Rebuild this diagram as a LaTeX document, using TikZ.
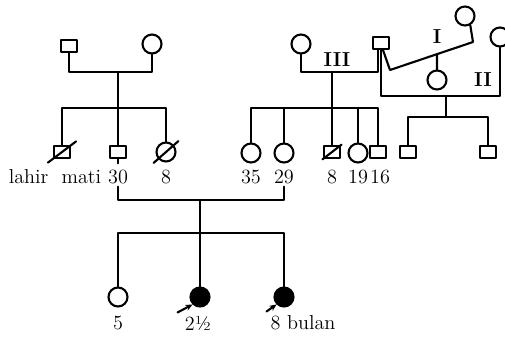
\documentclass[tikz,border=0pt]{standalone}
\usetikzlibrary{arrows.meta,calc}
\tikzset{
  ped/.style={
    line width=1.2pt,
    line cap=round,
    line join=round
  },
  male/.style={
    rectangle,
    draw=black,
    line width=1.2pt,
    minimum width=0.32cm,
    minimum height=0.24cm,
    inner sep=0pt
  },
  female/.style={
    circle,
    draw=black,
    line width=1.2pt,
    minimum size=0.38cm,
    inner sep=0pt
  },
  affected/.style={fill=black},
  age/.style={font=\fontsize{11.5}{13}\selectfont, inner sep=1pt},
  roman/.style={font=\fontsize{11.5}{13}\selectfont\bfseries, inner sep=0pt},
  proband/.style={-{Stealth[length=4pt,width=3.5pt]}, line width=1.2pt}
}
\newcommand{\deceased}[2][0.1cm]{%
  \draw ($(#2.south west)+(-#1,-0.7*#1)$) -- ($(#2.north east)+(#1,0.7*#1)$);
}

\begin{document}
\begin{tikzpicture}[ped, x=0.02cm, y=-0.02cm]
  \useasboundingbox (0,0) rectangle (505,336);
  % left grandparents
  \node[male] (gpa) at (69,46) {};
  \node[female] (gma) at (152,44) {};
  \coordinate (m1) at (118,72);
  \coordinate (s1) at (118,108);
  \draw (gpa.south) |- (m1) -| (gma.south);
  \draw (m1) -- (s1);
  \node[male] (c1) at (62,152) {};
  \node[male] (c2) at (118,152) {};
  \node[female] (c3) at (166,152) {};
  \draw (c1.north) |- (s1) -| (c3.north);
  \draw (s1) -- (c2.north);
  \deceased{c1}
  \deceased{c3}

  % right grandparents, three marriages
  \node[female] (w3) at (301,44) {};
  \node[male] (h) at (381,43) {};
  \node[female] (w1) at (465,16) {};
  \node[female] (w2) at (500,37) {};
  \node[roman] (r3) at (337,60) {III};
  \node[roman] (r1) at (437,37) {I};
  \node[roman] (r2) at (483,80) {II};

  % III
  \coordinate (m3) at (332,72);
  \coordinate (s3) at (332,108);
  \draw (w3.south) |- (m3) -| ([xshift=-0.06cm]h.south);
  \draw (m3) -- (s3);
  \node[female] (e1) at (251,153) {};
  \node[female] (e2) at (284,153) {};
  \node[male] (e3) at (332,152) {};
  \node[female] (e4) at (358,153) {};
  \node[male] (e5) at (378,152) {};
  \draw (e1.north) |- (s3) -| (e5.north);
  \draw (s3) -- (e3.north);
  \draw (e2.north) -- (e2.north |- s3);
  \draw (e4.north) -- (e4.north |- s3);
  \deceased[0.01cm]{e3}

  % I
  \coordinate (k1) at (390,70);
  \coordinate (k2) at (473,42);
  \draw ([xshift=0.04cm]h.south) -- (k1) -- (k2) -- (w1.-60);
  \coordinate (m4) at ($(k1)!0.566!(k2)$);
  \node[female] (f1) at (437,80) {};
  \draw (m4) -- (f1.north);

  % II
  \coordinate (m5) at (446,96);
  \coordinate (s5) at (446,117);
  \draw (h.south) |- (m5) -| (w2.south);
  \draw (m5) -- (s5);
  \node[male] (d1) at (408,152) {};
  \node[male] (d2) at (488,152) {};
  \draw (d1.north) |- (s5) -| (d2.north);

  % ages
  \node[age] (tlm) at (55,177) {lahir\ \ mati};
  \node[age] (t30) at (118,177) {30};
  \node[age] (t8a) at (166,177) {8};
  \node[age] (t35) at (251,177) {35};
  \node[age] (t29) at (284,177) {29};
  \node[age] (t8b) at (332,177) {8};
  \node[age] (t19) at (358,177) {19};
  \node[age] (t16) at (380,177) {16};
  \draw (c2.south) -- ([yshift=0.08cm]t30.north);

  % parents and children
  \coordinate (m6) at (200,200);
  \coordinate (s6) at (200,233);
  \draw (t30.south) |- (m6) -| (t29.south);
  \draw (m6) -- (s6);
  \node[female] (g1) at (118,297) {};
  \node[female, affected] (g2) at (200,297) {};
  \node[female, affected] (g3) at (284,297) {};
  \draw (g1.north) |- (s6) -| (g3.north);
  \draw (s6) -- (g2.north);
  \node[age] (t5) at (118,323) {5};
  \node[age] (t2) at (198,323) {2½};
  \node[age] (t8c) at (303,323) {8 bulan};
  \draw[proband] ($(g2.south west)+(-0.3cm,-0.16cm)$) -- (g2.south west);
  \draw[proband] ($(g3.south west)+(-0.2cm,-0.14cm)$) -- (g3.south west);
\end{tikzpicture}
\end{document}
